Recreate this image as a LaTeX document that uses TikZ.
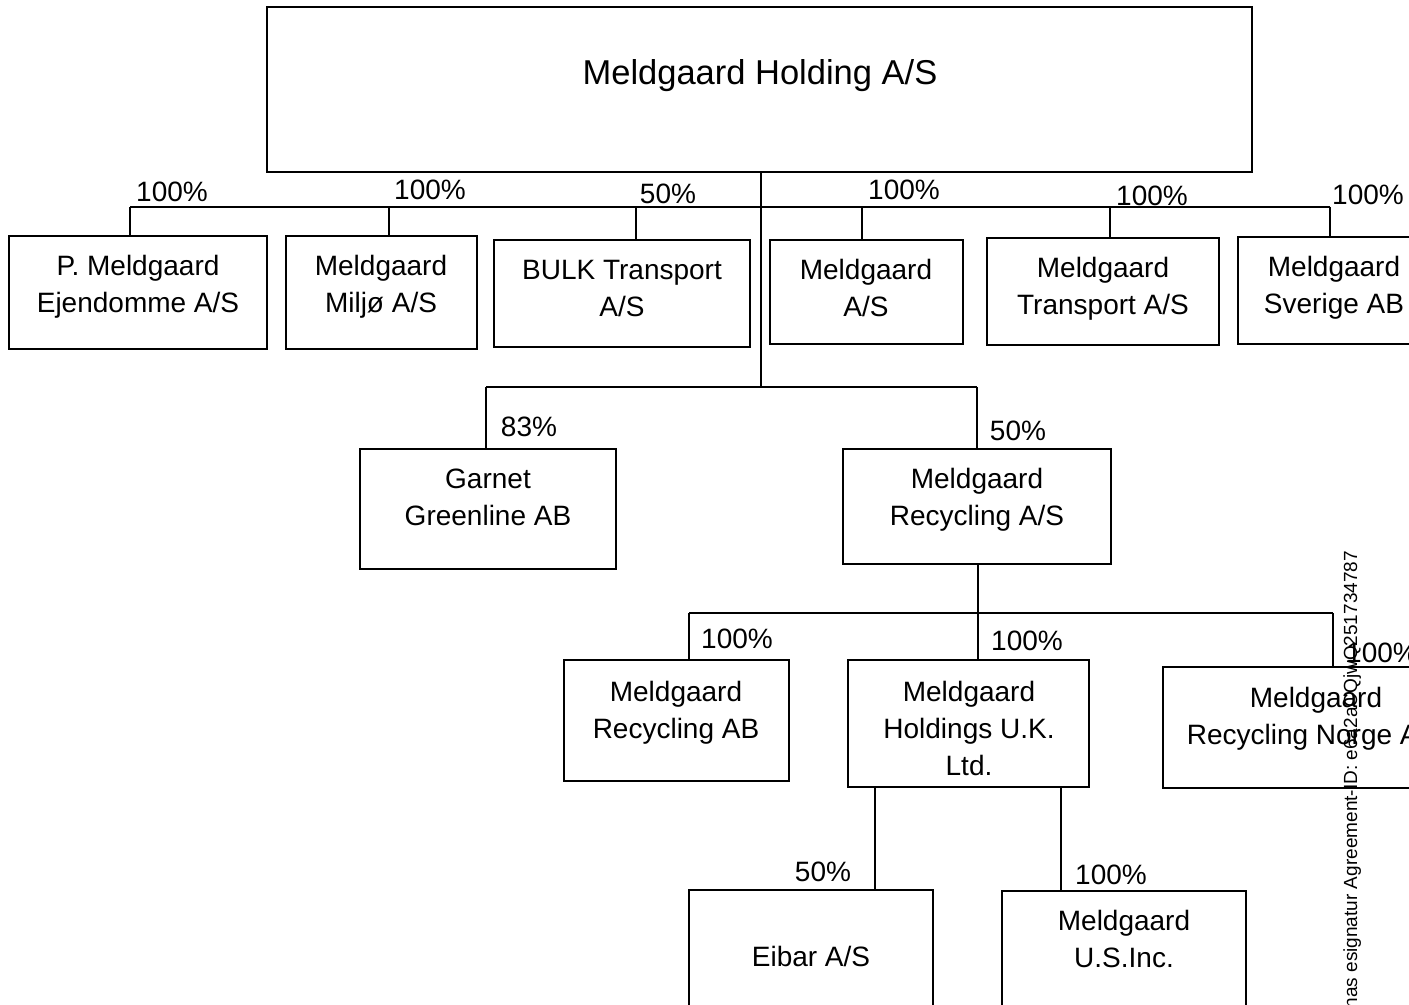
\documentclass[tikz,border=0pt]{standalone}
\usepackage{fontspec}
\setmainfont{Liberation Sans}
\newcommand\orgbox[5]{%
  \node[box, minimum width={(#4-#2)*0.5pt}, minimum height={(#5-#3)*0.5pt}] (#1) at ({(#2+#4)/2},{(#3+#5)/2}) {};}
\begin{document}
\begin{tikzpicture}[x=0.5pt,y=-0.5pt, line width=1pt,
  box/.style={draw, rectangle, inner sep=0pt, outer sep=0pt},
  txt/.style={font=\fontsize{14}{18.5}\selectfont, align=center, inner sep=0pt, anchor=base},
  pct/.style={font=\fontsize{14}{17}\selectfont, inner sep=0pt, anchor=base},
  ttl/.style={font=\fontsize{17.25}{20}\selectfont, inner sep=0pt, anchor=base},
  wmk/.style={font=\fontsize{9.5}{11}\selectfont, inner sep=0pt, rotate=90, anchor=base east}]
\useasboundingbox (0,0) rectangle (1409,1005);
\clip (0,0) rectangle (1409,1005);
\fill[white] (0,0) rectangle (1409,1005);
% boxes
\orgbox{top}{267}{7}{1252}{172}
\orgbox{b1}{9}{236}{267}{349}
\orgbox{b2}{286}{236}{477}{349}
\orgbox{b3}{494}{240}{750}{347}
\orgbox{b4}{770}{240}{963}{344}
\orgbox{b5}{987}{238}{1219}{345}
\orgbox{b6}{1238}{237}{1430}{344}
\orgbox{garnet}{360}{449}{616}{569}
\orgbox{recyc}{843}{449}{1111}{564}
\orgbox{recab}{564}{660}{789}{781}
\orgbox{hold}{848}{660}{1089}{787}
\orgbox{norge}{1163}{667}{1469}{788}
\orgbox{eibar}{689}{890}{933}{1030}
\orgbox{us}{1002}{891}{1246}{1030}
% box texts (anchor = baseline of last line)
\node[ttl] (ttop) at (760,85) {Meldgaard Holding A/S};
\node[txt] (tb1) at (138,313) {P. Meldgaard\\Ejendomme A/S};
\node[txt] (tb2) at (381,313) {Meldgaard\\Miljø A/S};
\node[txt] (tb3) at (622,317) {BULK Transport\\A/S};
\node[txt] (tb4) at (866,317) {Meldgaard\\A/S};
\node[txt] (tb5) at (1103,315) {Meldgaard\\Transport A/S};
\node[txt] (tb6) at (1334,314) {Meldgaard\\Sverige AB};
\node[txt] (tgarnet) at (488,526) {Garnet\\Greenline AB};
\node[txt] (trecyc) at (977,526) {Meldgaard\\Recycling A/S};
\node[txt] (trecab) at (676,738) {Meldgaard\\Recycling AB};
\node[txt] (thold) at (969,775) {Meldgaard\\Holdings U.K.\\Ltd.};
\node[txt] (tnorge) at (1316,744) {Meldgaard\\Recycling Norge A/S};
\node[txt] (teibar) at (811,966) {Eibar A/S};
\node[txt] (tus) at (1124,967) {Meldgaard\\U.S.Inc.};
% connectors
\coordinate (m2) at (761,387);
\draw (m2 |- top.south) -- (m2);
\coordinate (j1) at (130,207);
\coordinate (j2) at (389,207);
\coordinate (j3) at (636,207);
\coordinate (j4) at (862,207);
\coordinate (j5) at (1110,207);
\coordinate (j6) at (1330,207);
\draw (j1) -- (j6);
\foreach \j/\b in {j1/b1,j2/b2,j3/b3,j4/b4,j5/b5,j6/b6}
  \draw (\j) -- (\j |- \b.north);
\coordinate (k1) at (486,387);
\coordinate (k2) at (977,387);
\draw (k1) -- (k2);
\draw (k1) -- (k1 |- garnet.north);
\draw (k2) -- (k2 |- recyc.north);
\coordinate (r0) at (978,613);
\draw (r0 |- recyc.south) -- (r0 |- hold.north);
\coordinate (r1) at (689,613);
\coordinate (r2) at (1333,613);
\draw (r1) -- (r2);
\draw (r1) -- (r1 |- recab.north);
\draw (r2) -- (r2 |- norge.north);
\coordinate (e1) at (875,800);
\coordinate (e2) at (1061,800);
\draw (e1 |- hold.south) -- (e1 |- eibar.north);
\draw (e2 |- hold.south) -- (e2 |- us.north);
% percentages
\node[pct] (p1) at (172,202) {100\%};
\node[pct] (p2) at (430,200) {100\%};
\node[pct] (p3) at (668,204) {50\%};
\node[pct] (p4) at (904,200) {100\%};
\node[pct] (p5) at (1152,206) {100\%};
\node[pct] (p6) at (1368,205) {100\%};
\node[pct] (p7) at (529,437) {83\%};
\node[pct] (p8) at (1018,441) {50\%};
\node[pct] (p9) at (737,648) {100\%};
\node[pct] (p10) at (1027,650) {100\%};
\node[pct] (p11) at (1382,662) {100\%};
\node[pct] (p12) at (823,881) {50\%};
\node[pct] (p13) at (1111,884) {100\%};
% watermark
\node[wmk] (wm) at (1357,550) {has esignatur Agreement-ID: e6a2aCQjwQ251734787};
\end{tikzpicture}
\end{document}
